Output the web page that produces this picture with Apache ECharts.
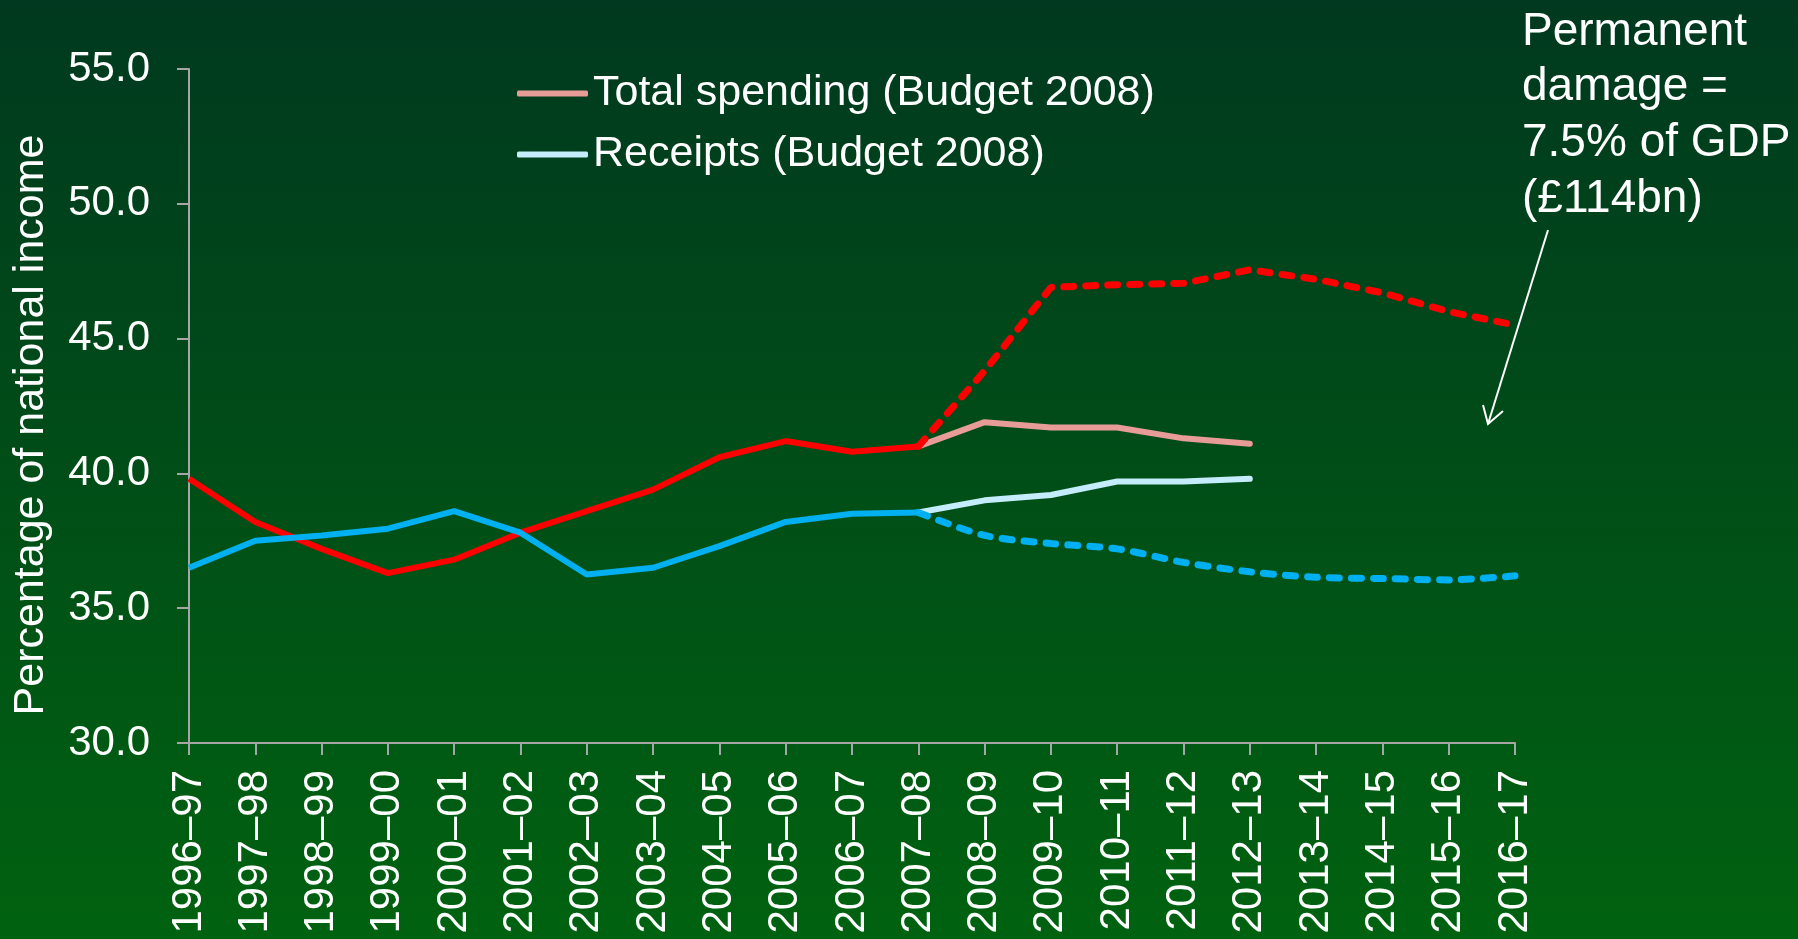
<!DOCTYPE html>
<html>
<head>
<meta charset="utf-8">
<script src="https://cdn.jsdelivr.net/npm/echarts@6/dist/echarts.min.js"></script>
<style>
html,body{margin:0;padding:0;width:1798px;height:939px;overflow:hidden;}
#chart{width:1798px;height:939px;}
</style>
</head>
<body>
<div id="chart"></div>
<script>
var categories = ['1996–97','1997–98','1998–99','1999–00','2000–01','2001–02','2002–03','2003–04','2004–05','2005–06','2006–07','2007–08','2008–09','2009–10','2010–11','2011–12','2012–13','2013–14','2014–15','2015–16','2016–17'];
var spendingOutturn = [39.8,38.2,37.2,36.3,36.8,37.8,38.6,39.4,40.6,41.2,40.8,41.0,null,null,null,null,null,null,null,null,null];
var spendingLatest = [null,null,null,null,null,null,null,null,null,null,null,41.0,43.8,46.9,47.0,47.05,47.55,47.2,46.7,46.0,45.5];
var spendingBudget2008 = [null,null,null,null,null,null,null,null,null,null,null,41.0,41.9,41.7,41.7,41.3,41.1,null,null,null,null];
var receiptsOutturn = [36.5,37.5,37.7,37.95,38.6,37.8,36.25,36.5,37.3,38.2,38.5,38.55,null,null,null,null,null,null,null,null,null];
var receiptsLatest = [null,null,null,null,null,null,null,null,null,null,null,38.55,37.7,37.4,37.2,36.7,36.35,36.15,36.1,36.05,36.2];
var receiptsBudget2008 = [null,null,null,null,null,null,null,null,null,null,null,38.55,39.0,39.2,39.7,39.7,39.8,null,null,null,null];
var yTicks = [30,35,40,45,50,55];

var FONT = '"Liberation Sans", Arial, sans-serif';
var chart = echarts.init(document.getElementById('chart'));
var option = {
  animation: false,
  backgroundColor: new echarts.graphic.LinearGradient(0,0,0,1,[
    {offset:0,color:'#00391F'},{offset:1,color:'#006210'}
  ]),
  textStyle: {fontFamily: FONT},
  grid: {left:189, right:283, top:69, bottom:196, containLabel:false},
  legend: {
    left: 512, top: 67, orient: 'vertical',
    itemWidth: 71, itemHeight: 6, itemGap: 18,
    icon: 'roundRect',
    data: ['Total spending (Budget 2008)','Receipts (Budget 2008)'],
    textStyle: {color:'#FFFFFF', fontSize:43, fontFamily:FONT}
  },
  xAxis: {
    type: 'category', data: categories, boundaryGap: false,
    axisLine: {lineStyle:{color:'#A6A6A6', width:2}},
    axisTick: {length:12, lineStyle:{color:'#A6A6A6', width:2}},
    axisLabel: {rotate:90, margin:27, color:'#FFFFFF', fontSize:42, fontFamily:FONT, interval:0},
    splitLine: {show:false}
  },
  yAxis: {
    type: 'value', min: yTicks[0], max: yTicks[yTicks.length-1], interval: 5,
    axisLine: {show:true, lineStyle:{color:'#A6A6A6', width:2}},
    axisTick: {show:true, length:12, lineStyle:{color:'#A6A6A6', width:2}},
    axisLabel: {margin:39, color:'#FFFFFF', fontSize:42, fontFamily:FONT, formatter:function(v){return v.toFixed(1);}},
    splitLine: {show:false}
  },
  series: [
    {name:'Total spending (Budget 2008)', type:'line', data:spendingBudget2008, symbol:'none', color:'#E89C98',
      lineStyle:{color:'#E89C98', width:6, cap:'round'}},
    {name:'Receipts (Budget 2008)', type:'line', data:receiptsBudget2008, symbol:'none', color:'#C4ECFB',
      lineStyle:{color:'#C4ECFB', width:6, cap:'round'}},
    {name:'Total spending', type:'line', data:spendingOutturn, symbol:'none', color:'#FF0000',
      lineStyle:{color:'#FF0000', width:6}},
    {name:'Receipts', type:'line', data:receiptsOutturn, symbol:'none', color:'#00B0F0',
      lineStyle:{color:'#00B0F0', width:6}},
    {name:'Total spending (latest)', type:'line', data:spendingLatest, symbol:'none', color:'#FF0000',
      lineStyle:{color:'#FF0000', width:7, type:[10,12], cap:'round'}},
    {name:'Receipts (latest)', type:'line', data:receiptsLatest, symbol:'none', smooth:0.3, color:'#00B0F0',
      lineStyle:{color:'#00B0F0', width:7, type:[10,12], cap:'round'}}
  ],
  graphic: [
    {type:'text', x:31, y:425, rotation:Math.PI/2,
      style:{text:'Percentage of national income', fill:'#FFFFFF', font:'43px '+FONT, align:'center', verticalAlign:'middle'}},
    {type:'text', x:1522, y:4,
      style:{text:'Permanent\ndamage =\n7.5% of GDP\n(£114bn)', fill:'#FFFFFF', font:'46px '+FONT, lineHeight:55.7, align:'left', verticalAlign:'top'}},
    {type:'line', shape:{x1:1548, y1:230, x2:1488, y2:424}, style:{stroke:'#FFFFFF', lineWidth:2}},
    {type:'polyline', shape:{points:[[1483,405],[1488,424],[1503,411]]}, style:{stroke:'#FFFFFF', lineWidth:2, fill:null}}
  ]
};
chart.setOption(option);
</script>
</body>
</html>
